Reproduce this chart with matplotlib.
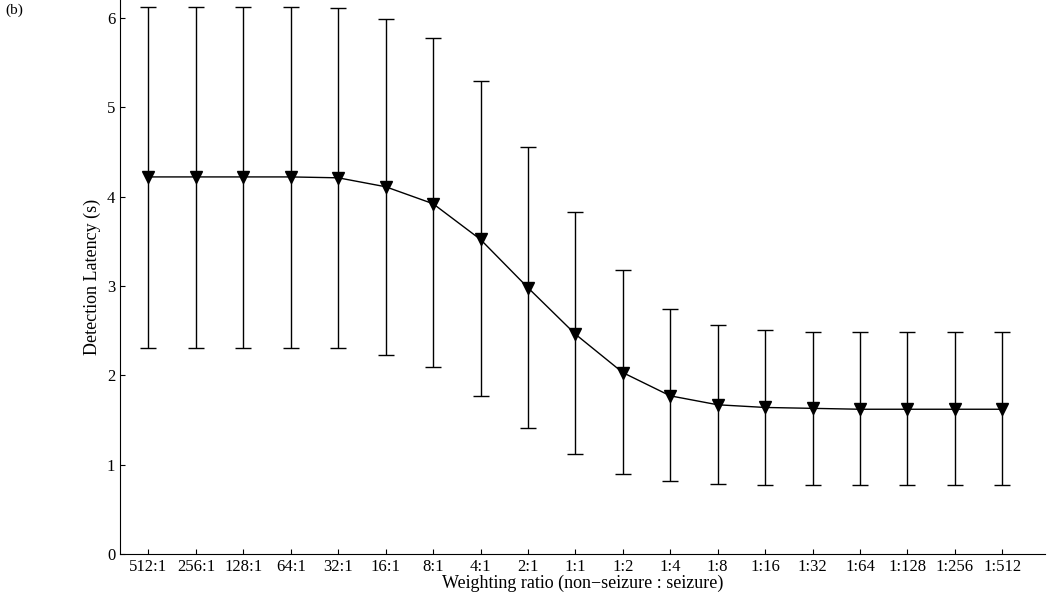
import matplotlib
matplotlib.use("Agg")
import matplotlib.pyplot as plt

categories = ["512:1","256:1","128:1","64:1","32:1","16:1","8:1","4:1","2:1","1:1",
              "1:2","1:4","1:8","1:16","1:32","1:64","1:128","1:256","1:512"]
means = [4.22,4.22,4.22,4.22,4.21,4.11,3.92,3.52,2.98,2.46,2.03,1.77,1.67,1.64,1.63,1.62,1.62,1.62,1.62]
upper = [6.12,6.12,6.12,6.12,6.11,5.99,5.77,5.29,4.56,3.83,3.18,2.74,2.56,2.51,2.49,2.48,2.48,2.48,2.48]
lower = [2.31,2.31,2.31,2.31,2.30,2.23,2.09,1.77,1.41,1.12,0.89,0.82,0.78,0.77,0.77,0.77,0.77,0.77,0.77]

plt.rcParams['font.family'] = ['Liberation Serif', 'DejaVu Serif']
fig = plt.figure(figsize=(10.5, 5.92), dpi=100)
ax = fig.add_axes([120/1050, 38/592, 925/1050, 554/592])
x = list(range(len(categories)))
yerr = [[m - l for m, l in zip(means, lower)], [u - m for u, m in zip(upper, means)]]
ax.errorbar(x, means, yerr=yerr, color='black', lw=1, elinewidth=1, capsize=6,
            marker='v', markersize=8, markerfacecolor='black')
ax.set_xlim(-0.6, 18.9)
ax.set_ylim(0, 6.2)
ax.set_xticks(x)
ax.set_xticklabels(categories, fontsize=12)
ax.set_yticks(range(7))
ax.tick_params(axis='y', labelsize=12, direction='in')
ax.tick_params(axis='x', direction='in')
for s in ['top', 'right']:
    ax.spines[s].set_visible(False)
ax.set_xlabel("Weighting ratio (non\u2212seizure : seizure)", fontsize=13, labelpad=0)
ax.set_ylabel("Detection Latency (s)", fontsize=13)
fig.text(5/1050, 1-14/592, "(b)", fontsize=11)
fig.savefig("out.png", dpi=100)
